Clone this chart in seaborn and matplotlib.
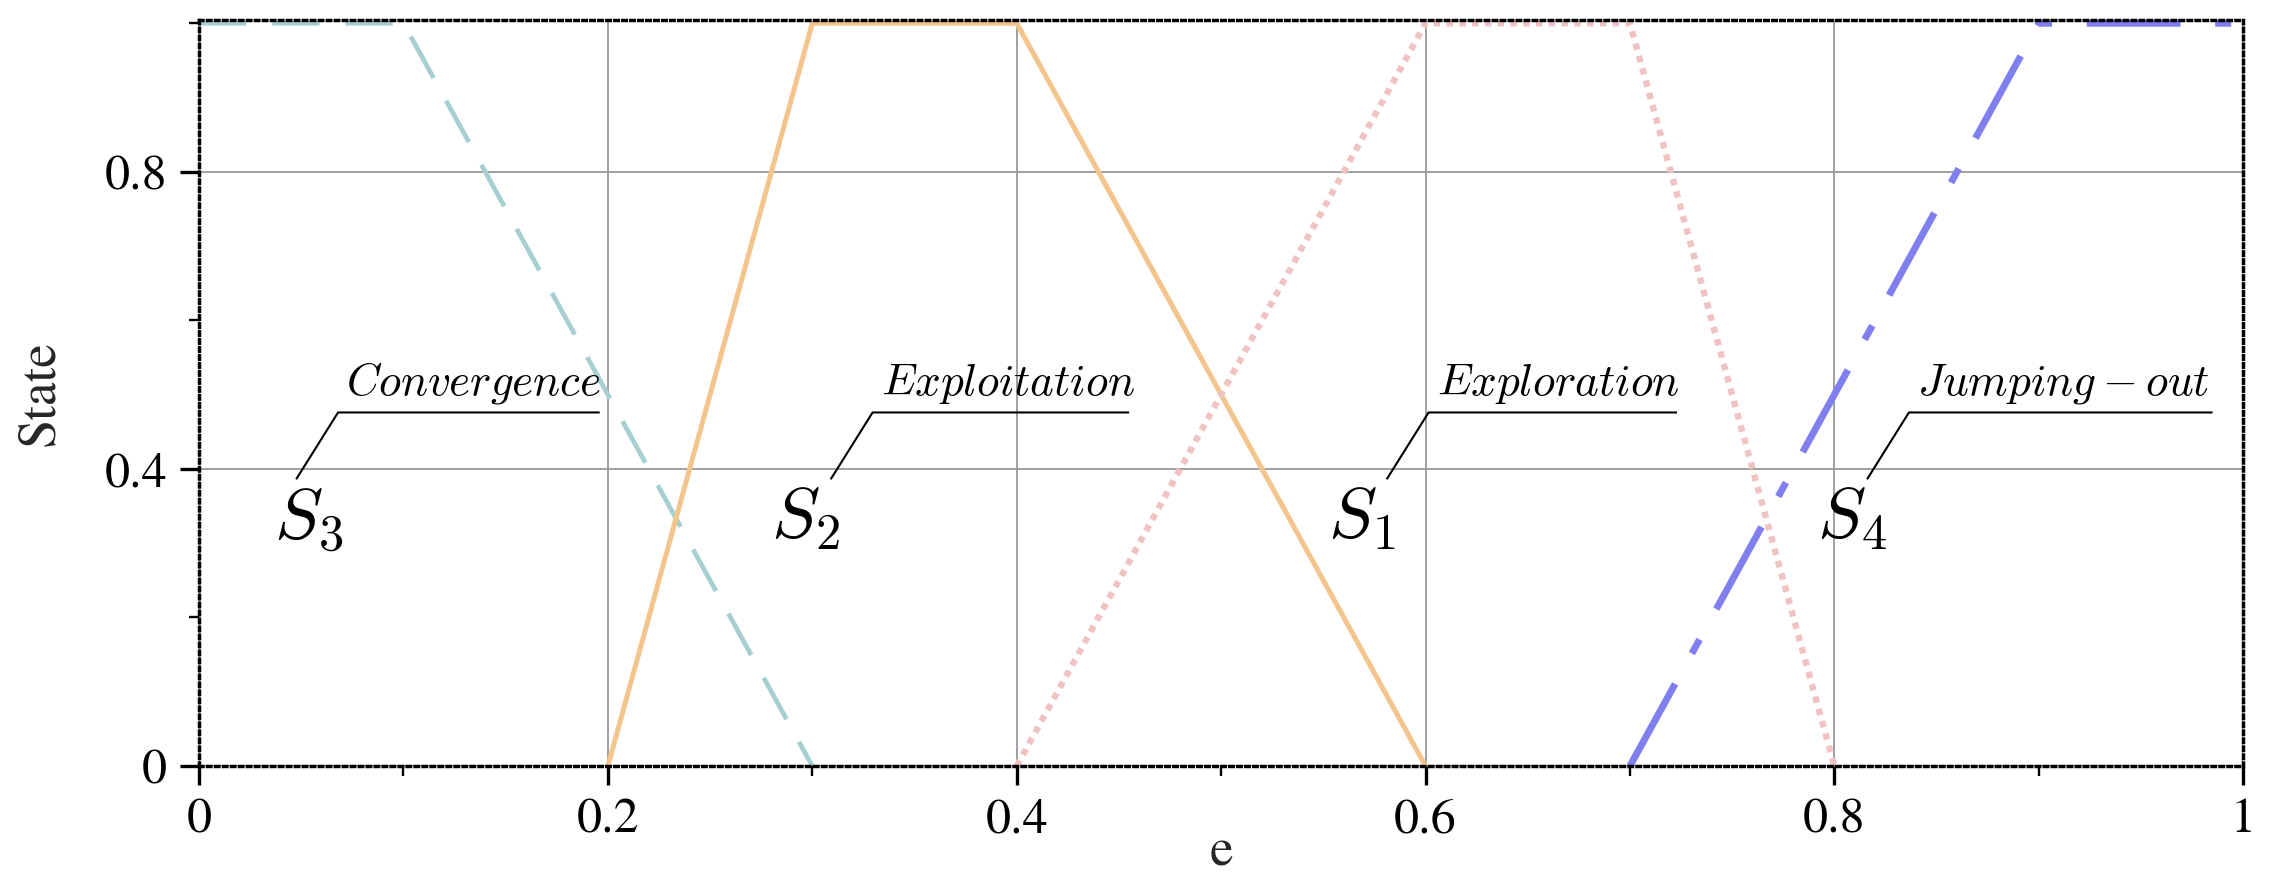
import matplotlib
matplotlib.use("Agg")
import matplotlib.pyplot as plt
import seaborn as sns
import pandas as pd
from matplotlib.ticker import MultipleLocator, FixedLocator, FixedFormatter

# ---------------- data ----------------
e_s3 = [0.0, 0.1, 0.3]
v_s3 = [1.0, 1.0, 0.0]
e_s2 = [0.2, 0.3, 0.4, 0.6]
v_s2 = [0.0, 1.0, 1.0, 0.0]
e_s1 = [0.4, 0.6, 0.7, 0.8]
v_s1 = [0.0, 1.0, 1.0, 0.0]
e_s4 = [0.7, 0.9, 1.0]
v_s4 = [0.0, 1.0, 1.0]

state_symbols = [r"$S_3$", r"$S_2$", r"$S_1$", r"$S_4$"]
state_names = [r"$Convergence$", r"$Exploitation$", r"$Exploration$", r"$Jumping-out$"]

x_ticks = [0, 0.2, 0.4, 0.6, 0.8, 1.0]
x_tick_labels = ["0", "0.2", "0.4", "0.6", "0.8", "1"]
y_ticks = [0, 0.4, 0.8]
y_tick_labels = ["0", "0.4", "0.8"]

# ---------------- style ----------------
sns.set_style("white")
families = ["STIXGeneral", "DejaVu Serif"]
plt.rcParams["font.family"] = families
plt.rcParams["mathtext.fontset"] = "cm"

fig = plt.figure(figsize=(22.75, 8.82), dpi=100)
ax = fig.add_axes([0.0875, 0.1315, 0.986 - 0.0875, 0.977 - 0.1315])

series = [
    (e_s3, v_s3, "#a6cfd2", 3.4, (0, (10, 5.5))),
    (e_s2, v_s2, "#f3c58c", 3.6, "-"),
    (e_s1, v_s1, "#f0c2c2", 4.6, (0, (1.0, 1.0))),
    (e_s4, v_s4, "#7f7ff0", 5.0, (0, (13.5, 5, 2.3, 5))),
]
for xs, ys, col, lw, ls in series:
    df = pd.DataFrame({"e": xs, "State": ys})
    sns.lineplot(data=df, x="e", y="State", ax=ax, color=col, lw=lw,
                 linestyle=ls, zorder=3, sort=False)

ax.set_xlim(0, 1)
ax.set_ylim(0, 1.004)

ax.xaxis.set_major_locator(FixedLocator(x_ticks))
ax.xaxis.set_major_formatter(FixedFormatter(x_tick_labels))
ax.xaxis.set_minor_locator(MultipleLocator(0.1))
ax.yaxis.set_major_locator(FixedLocator(y_ticks))
ax.yaxis.set_major_formatter(FixedFormatter(y_tick_labels))
ax.yaxis.set_minor_locator(MultipleLocator(0.2))

ax.tick_params(which="major", direction="out", length=14, width=2.4,
               labelsize=36, pad=9, color="black", labelcolor="black",
               bottom=True, left=True)
ax.tick_params(which="minor", direction="out", length=7.5, width=1.7,
               bottom=True, left=True, color="black")
for lab in ax.get_xticklabels() + ax.get_yticklabels():
    lab.set_fontfamily(families)

ax.grid(True, which="major", color="#999999", lw=1.3, zorder=0)
ax.set_axisbelow(True)

for sp in ax.spines.values():
    sp.set_visible(True)
    sp.set_color("black")
    sp.set_linewidth(2.5)
    sp.set_linestyle((0, (1, 1.3)))
    sp.set_zorder(5)

ax.set_xlabel("e", fontsize=38, fontfamily=families)
ax.xaxis.label.set_va("baseline")
ax.xaxis.set_label_coords(0.5, -0.133)
ax.set_ylabel("State", fontsize=38, fontfamily=families)
ax.yaxis.label.set_va("baseline")
ax.yaxis.set_label_coords(-0.0714, 0.5)

# ---------------- annotations (positions in data coords) ----------------
anchor_x = [0.0475, 0.309, 0.581, 0.816]
leader_end = [0.196, 0.455, 0.723, 0.985]
symbol_x = [0.0535, 0.2965, 0.569, 0.8085]
leader_low_y = 0.386
leader_high_y = 0.476
kink_dx = 0.0205
name_dx = 0.0245
name_y = 0.5
symbol_y = 0.33

for sym, name, ax0, xend, sx in zip(state_symbols, state_names, anchor_x,
                                    leader_end, symbol_x):
    ax.plot([ax0, ax0 + kink_dx, xend],
            [leader_low_y, leader_high_y, leader_high_y],
            color="black", lw=1.5, zorder=4, solid_capstyle="butt")
    ax.text(ax0 + name_dx, name_y, name, fontsize=32.5, ha="left",
            va="baseline", color="black", zorder=4)
    ax.text(sx, symbol_y, sym, fontsize=52, ha="center", va="center",
            color="black", zorder=4)

fig.savefig("out.png", dpi=100)
